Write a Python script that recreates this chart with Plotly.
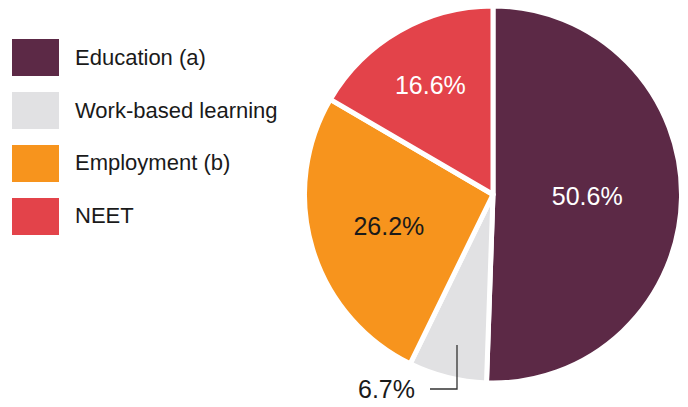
import plotly.graph_objects as go

labels = ["Education (a)", "Work-based learning", "Employment (b)", "NEET"]
values = [50.6, 6.7, 26.2, 16.6]
colors = ["#5C2946", "#E1E1E3", "#F7941D", "#E3434A"]
text_colors = ["white", "#1a1a1a", "#1a1a1a", "white"]

W, H = 688, 407
FONT = "Liberation Sans, Arial, sans-serif"

templates = ["%{value}%", "", "%{value}%", "%{value}%"]

fig = go.Figure(go.Pie(
    labels=labels,
    values=values,
    sort=False,
    direction="clockwise",
    rotation=0,
    marker=dict(colors=colors, line=dict(color="white", width=5)),
    texttemplate=templates,
    textposition="inside",
    insidetextorientation="horizontal",
    insidetextfont=dict(family=FONT, size=25, color=text_colors),
    domain=dict(x=[304 / W, 682 / W], y=[1 - 383 / H, 1 - 6 / H]),
    showlegend=False,
    hoverinfo="label+percent",
))

# custom legend: big swatches with labels
shapes = []
annotations = []
for i, (lab, col) in enumerate(zip(labels, colors)):
    top = 39 + i * 53
    shapes.append(dict(type="rect", xref="paper", yref="paper",
                       x0=12 / W, x1=59 / W, y0=1 - (top + 37) / H, y1=1 - top / H,
                       fillcolor=col, line=dict(width=0)))
    annotations.append(dict(xref="paper", yref="paper", x=73 / W, y=1 - (top + 18) / H,
                            text=lab, showarrow=False, xanchor="left", yanchor="middle",
                            font=dict(family=FONT, size=22, color="#1a1a1a")))

# leader line for the small slice
shapes.append(dict(type="path", xref="paper", yref="paper",
                   path="M %f %f L %f %f L %f %f" % (457 / W, 1 - 345 / H, 457 / W, 1 - 389 / H,
                                                     430 / W, 1 - 389 / H),
                   line=dict(color="#333333", width=1.3)))
annotations.append(dict(xref="paper", yref="paper", x=417 / W, y=1 - 389 / H,
                        text="%s%%" % values[1], showarrow=False, xanchor="right", yanchor="middle",
                        font=dict(family=FONT, size=25, color="#1a1a1a")))

fig.update_layout(
    width=W, height=H,
    margin=dict(l=0, r=0, t=0, b=0),
    paper_bgcolor="white",
    plot_bgcolor="white",
    shapes=shapes,
    annotations=annotations,
)

fig.write_html("out.html", config={"displayModeBar": False})

# drop the default page margin so the figure sits at the window's corner
with open("out.html", encoding="utf-8") as f:
    page = f.read()
page = page.replace("<body>", '<body style="margin:0">', 1)
with open("out.html", "w", encoding="utf-8") as f:
    f.write(page)
